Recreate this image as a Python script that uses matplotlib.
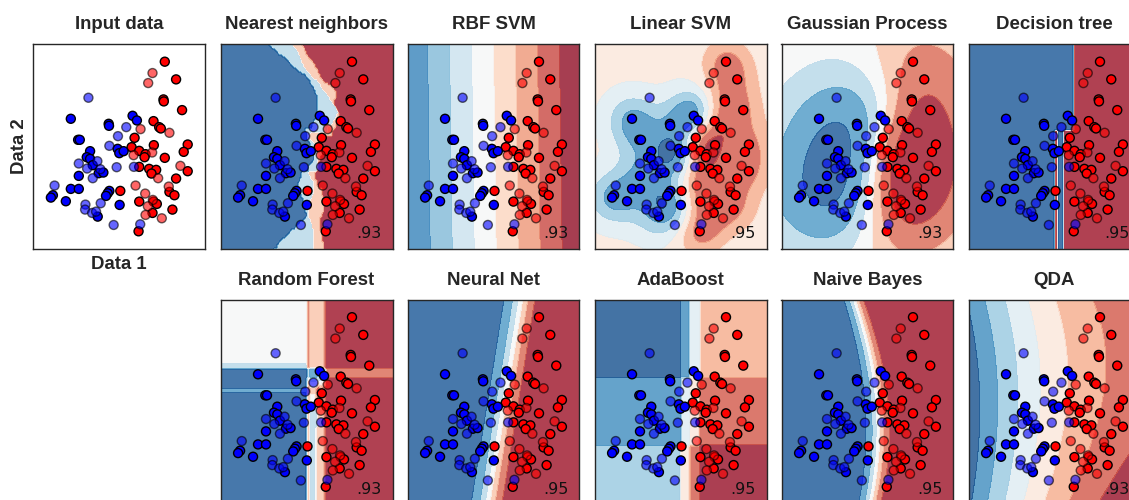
import numpy as np
import matplotlib
matplotlib.use("Agg")
import matplotlib.pyplot as plt
from matplotlib.colors import ListedColormap

# ---------------- data ----------------
train_red_x = [4.07, 4.41, 4.03, 4.04, 4.59, 3.73, 3.90, 3.95, 3.16, 3.74, 4.76, 3.07, 3.30, 4.64, 3.49, 3.46,
               4.07, 3.30, 3.60, 3.81, 3.67, 4.76, 4.41, 2.73, 4.21, 4.36, 3.30, 3.73, 3.83, 3.70, 4.30, 3.28]
train_red_y = [5.74, 5.21, 4.61, 4.55, 4.29, 3.96, 3.78, 3.74, 3.46, 3.24, 3.26, 3.18, 3.07, 3.04, 2.97, 2.88,
               2.86, 2.59, 2.53, 2.50, 2.39, 2.46, 2.24, 1.87, 1.84, 1.74, 1.55, 1.55, 1.48, 1.21, 1.31, 0.66]
train_blue_x = [1.24, 2.38, 2.39, 3.10, 3.23, 1.46, 1.51, 1.82, 2.65, 2.70, 2.83, 1.72, 1.82, 1.90, 2.08, 2.22,
                1.48, 1.24, 1.48, 0.70, 0.64, 1.09, 2.40, 2.35, 2.30, 2.71, 2.05]
train_blue_y = [4.03, 3.88, 3.82, 4.12, 3.98, 3.40, 3.40, 3.06, 3.13, 3.00, 3.06, 2.88, 2.83, 2.64, 2.40, 2.42,
                2.32, 1.93, 1.93, 1.74, 1.67, 1.56, 1.87, 1.80, 1.72, 1.45, 1.10]
test_blue_x = [1.77, 2.91, 2.66, 2.40, 2.04, 1.48, 1.73, 2.13, 1.90, 2.62, 3.14, 0.75, 2.14, 1.68, 1.67, 1.88,
               2.00, 2.53, 3.33]
test_blue_y = [4.66, 3.78, 3.51, 3.22, 2.76, 2.69, 2.54, 2.52, 2.25, 2.58, 2.59, 2.03, 1.50, 1.46, 1.31, 1.21,
               1.25, 0.85, 0.87]
test_red_x = [3.70, 3.57, 3.34, 4.21, 3.13, 3.69, 4.54, 3.87, 3.19, 4.19, 3.48, 3.71, 3.56, 3.49, 3.98]
test_red_y = [5.40, 5.10, 3.72, 3.61, 2.94, 3.02, 2.62, 2.25, 2.03, 2.00, 1.79, 1.60, 1.41, 1.15, 1.05]

titles = ["Nearest neighbors", "RBF SVM", "Linear SVM", "Gaussian Process", "Decision tree",
          "Random Forest", "Neural Net", "AdaBoost", "Naive Bayes", "QDA"]
scores = [0.93, 0.93, 0.95, 0.93, 0.95, 0.93, 0.95, 0.95, 0.95, 0.93]

# coefficients of the linear separating function (w_x, w_y, intercept)
linear_coef = [-0.755, -0.010, 2.100]

# ---------------- arrays ----------------
Xtr = np.column_stack([np.r_[train_red_x, train_blue_x], np.r_[train_red_y, train_blue_y]])
ytr = np.r_[np.zeros(len(train_red_x)), np.ones(len(train_blue_x))]
Xte = np.column_stack([np.r_[test_red_x, test_blue_x], np.r_[test_red_y, test_blue_y]])
yte = np.r_[np.zeros(len(test_red_x)), np.ones(len(test_blue_x))]
Xall = np.vstack([Xtr, Xte])
center = Xall.mean(0)

eps = 0.53
x_min, x_max = Xall[:, 0].min() - eps, Xall[:, 0].max() + eps
y_min, y_max = Xall[:, 1].min() - eps, Xall[:, 1].max() + eps
gx = np.linspace(x_min, x_max, 100)
gy = np.linspace(y_min, y_max, 100)
xx, yy = np.meshgrid(gx, gy)
G = np.column_stack([xx.ravel(), yy.ravel()])


def sqdist(A, B):
    return ((A[:, None, :] - B[None, :, :]) ** 2).sum(-1)


def sigmoid(z):
    return 1.0 / (1.0 + np.exp(-z))


# --- k nearest neighbours ---
def knn_proba(P, k=3):
    idx = np.argsort(sqdist(P, Xtr), axis=1)[:, :k]
    return ytr[idx].mean(1)


# --- linear decision function ---
def linear_decision(P):
    return P[:, 0] * linear_coef[0] + P[:, 1] * linear_coef[1] + linear_coef[2]


# --- kernel SVM by dual coordinate descent ---
def dual_cd(K, s, C, epochs):
    Q = K * s[:, None] * s[None, :]
    a = np.zeros(len(s))
    for _ in range(epochs):
        for i in range(len(s)):
            g = Q[i] @ a - 1.0
            a[i] = min(max(a[i] - g / Q[i, i], 0.0), C)
    return a


def rbf_svm(gamma, C, bias=1.0):
    s = 2 * ytr - 1
    K = np.exp(-gamma * sqdist(Xtr, Xtr)) + bias
    a = dual_cd(K, s, C, 1500)
    return lambda P: (np.exp(-gamma * sqdist(P, Xtr)) + bias) @ (a * s)


# --- Gaussian process classifier (Laplace) ---
def gpc(amp, ls):
    n = len(Xtr)
    K = amp * np.exp(-0.5 * sqdist(Xtr, Xtr) / ls ** 2)
    f = np.zeros(n)
    for _ in range(60):
        pi = sigmoid(f)
        W = pi * (1 - pi)
        sW = np.sqrt(W)
        L = np.linalg.cholesky(np.eye(n) + sW[:, None] * K * sW[None, :])
        b = W * f + (ytr - pi)
        c = np.linalg.solve(L.T, np.linalg.solve(L, sW * (K @ b)))
        f = K @ (b - sW * c)
    pi = sigmoid(f)
    sW = np.sqrt(pi * (1 - pi))
    L = np.linalg.cholesky(np.eye(n) + sW[:, None] * K * sW[None, :])

    def predict(P):
        Ks = amp * np.exp(-0.5 * sqdist(P, Xtr) / ls ** 2)
        fs = Ks @ (ytr - pi)
        v = np.linalg.solve(L, sW[:, None] * Ks.T)
        var = np.maximum(amp - (v ** 2).sum(0), 1e-9)
        return sigmoid(fs / np.sqrt(1 + np.pi * var / 8))
    return predict


# --- CART trees ---
def best_split(X, y, w, feats):
    best = None
    tot = w.sum()
    for f in feats:
        o = np.argsort(X[:, f], kind="mergesort")
        xs, ys, ws = X[o, f], y[o], w[o]
        cw = np.cumsum(ws)[:-1]
        cwy = np.cumsum(ws * ys)[:-1]
        wr = tot - cw
        wyr = (ws * ys).sum() - cwy
        with np.errstate(divide="ignore", invalid="ignore"):
            pl = cwy / cw
            pr = wyr / wr
            imp = cw * 2 * pl * (1 - pl) + wr * 2 * pr * (1 - pr)
        ok = (xs[1:] > xs[:-1] + 1e-12) & (cw > 0) & (wr > 0)
        if not ok.any():
            continue
        imp = np.where(ok, imp, np.inf)
        i = int(np.argmin(imp))
        if best is None or imp[i] < best[0] - 1e-12:
            best = (imp[i], f, 0.5 * (xs[i] + xs[i + 1]))
    return best


def grow(X, y, w, depth, max_depth, feat_fn):
    p = (w * y).sum() / w.sum()
    if depth >= max_depth or p <= 0 or p >= 1 or len(X) < 2:
        return ("leaf", p)
    sp = best_split(X, y, w, feat_fn(depth))
    if sp is None:
        sp = best_split(X, y, w, [0, 1])
    if sp is None:
        return ("leaf", p)
    _, f, t = sp
    m = X[:, f] <= t
    return ("node", f, t, grow(X[m], y[m], w[m], depth + 1, max_depth, feat_fn),
            grow(X[~m], y[~m], w[~m], depth + 1, max_depth, feat_fn))


def tree_predict(node, P):
    if node[0] == "leaf":
        return np.full(len(P), node[1])
    _, f, t, left, right = node
    out = np.empty(len(P))
    m = P[:, f] <= t
    out[m] = tree_predict(left, P[m])
    out[~m] = tree_predict(right, P[~m])
    return out


both = lambda d: [0, 1]


def decision_tree():
    tree = grow(Xtr, ytr, np.ones(len(Xtr)), 0, 5, both)
    return lambda P: tree_predict(tree, P)


def random_forest(n_trees=10):
    trees = []
    n = len(Xtr)
    idx = np.arange(n)
    for k in range(n_trees):
        counts = np.array([0, 1, 1, 2])[(idx * (2 * k + 3) + k) % 4].astype(float)
        keep = counts > 0
        counter = [0]

        def feat_fn(depth, k=k, counter=counter):
            counter[0] += 1
            return [((counter[0] * 7 + k * 3 + depth) % 5) % 2]
        trees.append(grow(Xtr[keep], ytr[keep], counts[keep], 0, 5, feat_fn))
    return lambda P: np.mean([tree_predict(t, P) for t in trees], axis=0)


def adaboost(n_est=50):
    n = len(Xtr)
    w = np.full(n, 1.0 / n)
    stumps, alphas = [], []
    for _ in range(n_est):
        st = grow(Xtr, ytr, w, 0, 1, both)
        pred = tree_predict(st, Xtr) > 0.5
        wrong = pred != (ytr > 0.5)
        err = (w * wrong).sum() / w.sum()
        if err <= 0:
            stumps.append(st)
            alphas.append(1.0)
            break
        if err >= 0.5:
            break
        al = np.log((1 - err) / err)
        stumps.append(st)
        alphas.append(al)
        w = w * np.exp(al * wrong)
        w /= w.sum()
    alphas = np.array(alphas)

    def decision(P):
        votes = np.array([2.0 * (tree_predict(s, P) > 0.5) - 1 for s in stumps])
        return (alphas[:, None] * votes).sum(0) / alphas.sum()
    return decision


# --- logistic network stand-in ---
def logistic(lam):
    A = np.column_stack([Xtr - center, np.ones(len(Xtr))])
    w = np.zeros(3)
    R = np.diag([lam, lam, 0.0])
    for _ in range(100):
        p = sigmoid(A @ w)
        g = A.T @ (p - ytr) + R @ w
        H = (A * (p * (1 - p))[:, None]).T @ A + R + 1e-9 * np.eye(3)
        w -= np.linalg.solve(H, g)
    return lambda P: sigmoid(np.column_stack([P - center, np.ones(len(P))]) @ w)


# --- Gaussian naive Bayes ---
def naive_bayes():
    stats = []
    for c in (0, 1):
        Xc = Xtr[ytr == c]
        stats.append((Xc.mean(0), Xc.var(0), len(Xc) / len(Xtr)))

    def proba(P):
        ll = []
        for mu, var, pr in stats:
            ll.append(np.log(pr) - 0.5 * np.sum(np.log(2 * np.pi * var)) - 0.5 * (((P - mu) ** 2) / var).sum(1))
        return sigmoid(ll[1] - ll[0])
    return proba


# --- quadratic discriminant ---
def qda():
    stats = []
    for c in (0, 1):
        Xc = Xtr[ytr == c]
        S = np.cov(Xc.T)
        stats.append((Xc.mean(0), np.linalg.inv(S), np.linalg.slogdet(S)[1], len(Xc) / len(Xtr)))

    def decision(P):
        ll = []
        for mu, Si, ld, pr in stats:
            D = P - mu
            ll.append(-0.5 * ld - 0.5 * np.einsum("ij,jk,ik->i", D, Si, D) + np.log(pr))
        return ll[1] - ll[0]
    return decision


models = [
    lambda P: knn_proba(P, 3),
    linear_decision,
    rbf_svm(1.8, 1.0),
    gpc(3.0, 1.3),
    decision_tree(),
    random_forest(),
    logistic(0.3),
    adaboost(),
    naive_bayes(),
    qda(),
]

# ---------------- figure ----------------
FW, FH = 1129.0, 500.0
PW, PH = 172.0, 205.0
col_left = [33.3, 220.5, 407.5, 594.5, 781.5, 968.5]
row_top = [44.0, 299.5]
fig = plt.figure(figsize=(FW / 100, FH / 100), dpi=100)
cm_bright = ListedColormap(["#FF0000", "#0000FF"])
title_font = dict(family=["Liberation Sans", "DejaVu Sans"], weight="bold", size=13.4, color="#262626")


def panel(col, row):
    ax = fig.add_axes([col_left[col] / FW, 1 - (row_top[row] + PH) / FH, PW / FW, PH / FH])
    ax.set_xlim(x_min, x_max)
    ax.set_ylim(y_min, y_max)
    ax.set_xticks([])
    ax.set_yticks([])
    for sp in ax.spines.values():
        sp.set_color("#262626")
        sp.set_linewidth(1.0)
    return ax


def draw_points(ax):
    ax.scatter(Xtr[:, 0], Xtr[:, 1], c=ytr, cmap=cm_bright, edgecolors="k", s=42, linewidths=1.0, zorder=3)
    ax.scatter(Xte[:, 0], Xte[:, 1], c=yte, cmap=cm_bright, alpha=0.6, edgecolors="k", s=42,
               linewidths=1.0, zorder=3)


ax = panel(0, 0)
draw_points(ax)
ax.set_title("Input data", pad=10.6, **title_font)
ax.set_xlabel("Data 1", labelpad=5, **title_font)
ax.set_ylabel("Data 2", labelpad=4, **title_font)

slots = [(1, 0), (2, 0), (3, 0), (4, 0), (5, 0), (1, 1), (2, 1), (3, 1), (4, 1), (5, 1)]
for (col, row), name, model, sc in zip(slots, titles, models, scores):
    ax = panel(col, row)
    Z = model(G).reshape(xx.shape)
    ax.contourf(xx, yy, Z, cmap=plt.cm.RdBu, alpha=0.8)
    draw_points(ax)
    ax.set_title(name, pad=10.6, **title_font)
    ax.text(x_max - 0.32, y_min + 0.32, ("%.2f" % sc).lstrip("0"), size=11.5,
            horizontalalignment="right", family="DejaVu Sans", color="#111111")

fig.savefig("out.png", dpi=100)
